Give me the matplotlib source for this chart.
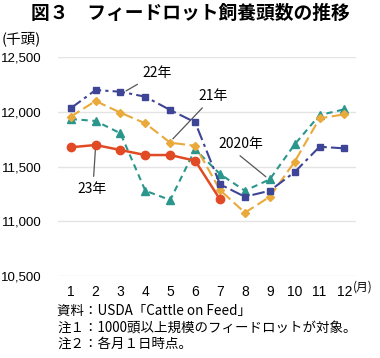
import matplotlib.pyplot as plt
import numpy as np

plt.rcParams['font.family'] = ['Noto Sans CJK JP', 'DejaVu Sans']

months = [1, 2, 3, 4, 5, 6, 7, 8, 9, 10, 11, 12]
y2020 = [11935, 11917, 11804, 11278, 11193, 11657, 11431, 11278, 11382, 11703, 11971, 12024]
y2021 = [11956, 12100, 11993, 11895, 11718, 11690, 11284, 11077, 11223, 11544, 11941, 11978]
y2022 = [12033, 12200, 12185, 12139, 12017, 11905, 11337, 11223, 11278, 11449, 11681, 11666]
y2023 = [11676, 11697, 11651, 11605, 11605, 11553, 11199]
yticks = [10500, 11000, 11500, 12000, 12500]

c2020 = '#2a968c'
c2021 = '#e9a93b'
c2022 = '#3f4596'
c2023 = '#e04b25'

fig = plt.figure(figsize=(3.8, 3.58), dpi=100)
ax = fig.add_axes([0.1526, 0.2299, 0.784, 0.61])

ax.plot(months, y2020, color=c2020, ls=(0, (3, 2.2)), lw=1.5, marker='^', ms=5.5, zorder=3)
ax.plot(months, y2021, color=c2021, ls=(0, (5, 2.2)), lw=1.5, marker='D', ms=4.5, zorder=4)
ax.plot(months, y2022, color=c2022, ls=(0, (6, 2, 1.5, 2)), lw=1.5, marker='s', ms=5, zorder=5)
ax.plot(months[:len(y2023)], y2023, color=c2023, ls='-', lw=1.8, marker='o', ms=6, zorder=6)

ax.set_xlim(0.49, 12.46)
ax.set_ylim(10500, 12500)
ax.set_yticks(yticks)
ax.set_yticklabels([f'{v:,}' for v in yticks], fontsize=9.5, family=['Liberation Sans'])
ax.set_xticks(months)
ax.set_xticklabels([str(m) for m in months], fontsize=10, family=['Liberation Sans'])
ax.tick_params(length=0)
ax.tick_params(axis='y', pad=12)
ax.tick_params(axis='x', pad=7)
ax.grid(axis='y', color='#e4e4e4', lw=1)
ax.set_axisbelow(True)
for s in ax.spines.values():
    s.set_visible(False)

# series labels
ann = dict(arrowprops=dict(arrowstyle='-', color='#555555', lw=0.9), fontsize=10,
           ha='left', va='center')
ax.annotate('22年', xy=(3.13, 12180), xytext=(3.87, 12355), **ann)
ax.annotate('21年', xy=(5.03, 11735), xytext=(6.15, 12145), **ann)
ax.annotate('2020年', xy=(8.93, 11390), xytext=(6.95, 11640), ha='left', va='bottom',
            arrowprops=dict(arrowstyle='-', color='#555555', lw=0.9,
                            relpos=(0.35, 0.0)), fontsize=10)
ax.annotate('23年', xy=(2.0, 11680), xytext=(1.85, 11295), ha='center', va='center',
            arrowprops=dict(arrowstyle='-', color='#555555', lw=0.9, relpos=(0.55, 1.0)),
            fontsize=10)

fig.text(0.5, 0.962, '図３　フィードロット飼養頭数の推移', ha='center', va='center',
         fontsize=13.5, fontweight='bold')
fig.text(0.005, 0.893, '(千頭)', ha='left', va='center', fontsize=10.5)
fig.text(0.928, 0.198, '(月)', ha='left', va='center', fontsize=8.5)

notes = ['資料：USDA「Cattle on Feed」',
         '注１：1000頭以上規模のフィードロットが対象。',
         '注２：各月１日時点。']
for i, t in enumerate(notes):
    fig.text(0.15, 0.131 - i * 0.045, t, ha='left', va='center', fontsize=9.7)

fig.savefig('out.png', dpi=100)
